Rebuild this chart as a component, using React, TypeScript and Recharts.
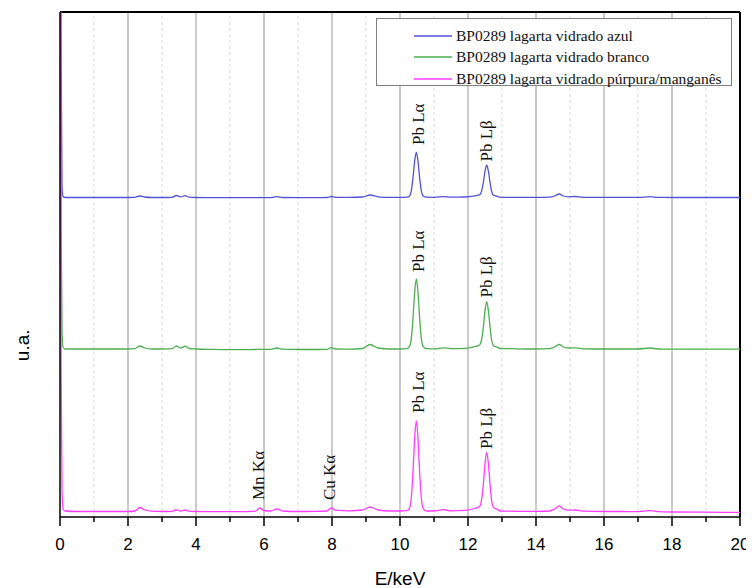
import React from "react";
import { ComposedChart, Line, Scatter, XAxis, YAxis, ReferenceLine } from "recharts";

// Energy grid (keV)
const energies = [
  0, 0.03, 0.06, 0.09, 0.15, 0.5, 1.0, 1.5, 2.0, 2.2, 2.35, 2.5, 2.7, 3.0, 3.3, 3.42, 3.55, 3.68, 3.8, 4.0,
  4.5, 5.0, 5.5, 5.75, 5.87, 6.0, 6.2, 6.38, 6.55, 7.0, 7.5, 7.85, 7.98, 8.1, 8.5, 8.9, 9.12, 9.35, 9.7, 10.0,
  10.2, 10.28, 10.33, 10.38, 10.43, 10.48, 10.53, 10.58, 10.63, 10.68, 10.78, 11.0, 11.28, 11.5, 11.9,
  12.2, 12.3, 12.35, 12.4, 12.45, 12.5, 12.55, 12.6, 12.65, 12.7, 12.75, 12.85, 12.95, 13.1, 13.5, 14.0,
  14.4, 14.55, 14.68, 14.8, 14.95, 15.15, 15.4, 16.0, 16.5, 17.0, 17.35, 17.6, 18.0, 19.0, 20.0,
];

// Stacked (offset) intensities, arbitrary units
const azul = [
  900, 470, 330, 320.5, 319.5, 319.5, 319.5, 319.5, 319.5, 319.6, 321, 320, 319.5, 319.5, 319.7, 321.5, 320.2, 321.3, 319.8, 319.5,
  319.4, 319.3, 319.3, 319.3, 319.5, 319.4, 319.4, 320.3, 319.5, 319.4, 319.4, 319.5, 320.5, 319.7, 319.6, 320, 322, 320.2, 319.6, 319.6,
  319.8, 321, 325.8, 338.4, 355.5, 364.5, 355.5, 338.4, 325.8, 321, 319.8, 319.7, 320.4, 319.8, 320,
  321.1, 321.8, 322.4, 326, 334.1, 345.8, 352, 345.8, 334.1, 325, 321.8, 320.8, 319.8, 319.7, 319.6, 319.6,
  319.8, 321, 323, 321, 320.2, 320.5, 319.7, 319.6, 319.6, 319.6, 320.3, 319.6, 319.5, 319.5, 319.5,
];
const branco = [
  900, 300, 185, 169.5, 168, 168, 168, 168, 168, 168.3, 171, 169, 168, 168, 168.3, 171, 169, 170.8, 168.5, 168,
  167.6, 167.4, 167.4, 167.5, 167.8, 167.6, 167.6, 169, 167.8, 167.5, 167.5, 167.6, 169.3, 168, 167.8, 168.5, 172.5, 169, 168, 168,
  168.3, 170.5, 177.8, 197.4, 224, 238, 224, 197.4, 177.8, 170.5, 168.3, 168.2, 169.2, 168.4, 168.7,
  170.4, 171.3, 172.3, 177.5, 189.3, 206.3, 215.3, 206.3, 189.3, 176, 171.3, 169.9, 168.5, 168.4, 168.1, 168,
  168.4, 170, 172.5, 170, 169, 169.2, 168.2, 168, 168, 168, 169, 168, 167.9, 167.9, 167.9,
];
const purpura = [
  900, 160, 25, 8, 6, 5.5, 5.5, 5.5, 5.5, 6, 9.5, 7, 5.8, 5.5, 5.7, 7, 6, 7, 5.8, 5.5,
  5.3, 5.3, 5.4, 5.8, 9, 6.5, 6, 8, 6, 5.5, 5.6, 6, 9, 6.8, 6.2, 7, 10, 7, 6, 6,
  6.3, 8.7, 18.2, 43.5, 77.9, 96, 77.9, 43.5, 18.2, 8.7, 6, 6, 7.3, 6.2, 6.6,
  8.5, 9.6, 10.8, 17.3, 32, 53.3, 64.5, 53.3, 32, 15.5, 9.6, 7.9, 6, 5.9, 5.7, 5.7,
  6, 8, 11, 8, 6.8, 7, 5.8, 5.5, 5.5, 5.4, 6.3, 5.4, 5, 4.8, 4.6,
];

const seriesNames = [
  "BP0289 lagarta vidrado azul",
  "BP0289 lagarta vidrado branco",
  "BP0289 lagarta vidrado púrpura/manganês",
];
const seriesKeys = ["azul", "branco", "purpura"];
const seriesColors = ["#5252d8", "#4caf50", "#ff3cff"];

// Peak annotations (energy, label bottom value)
const labelTexts = ["Pb Lα", "Pb Lβ", "Pb Lα", "Pb Lβ", "Pb Lα", "Pb Lβ", "Mn Kα", "Cu Kα"];
const labelEnergies = [10.53, 12.55, 10.53, 12.53, 10.53, 12.55, 5.83, 7.94];
const labelValues = [372, 355.5, 245, 219.5, 104, 68, 17, 17];

const majorTicks = [0, 2, 4, 6, 8, 10, 12, 14, 16, 18, 20];
const minorTicks = [1, 3, 5, 7, 9, 11, 13, 15, 17, 19];
const allTicks = [0, 1, 2, 3, 4, 5, 6, 7, 8, 9, 10, 11, 12, 13, 14, 15, 16, 17, 18, 19, 20];

const series: Record<string, number[]> = { azul, branco, purpura };
const data = energies.map((e, i) => {
  const row: Record<string, number> = { e };
  seriesKeys.forEach((k) => (row[k] = series[k][i]));
  return row;
});
const labelData = labelTexts.map((t, i) => ({ text: t, e: labelEnergies[i], v: labelValues[i] }));

const W = 746;
const H = 580;

const AxisTick = (props: any) => {
  const { x, y, payload } = props;
  const major = payload.value % 2 === 0;
  return (
    <g>
      <line x1={x} x2={x} y1={y} y2={y + (major ? 9 : 5)} stroke="#000" strokeWidth={1.5} />
      {major && (
        <text
          x={x}
          y={y + 27}
          textAnchor="middle"
          dominantBaseline="central"
          fontFamily="'Liberation Sans Narrow', 'Liberation Sans', Arial, sans-serif"
          fontSize={17}
          fill="#000"
        >
          {payload.value}
        </text>
      )}
    </g>
  );
};

const PeakLabel = (props: any) => {
  const { cx, cy, payload } = props;
  if (cx == null || cy == null) return <g />;
  return (
    <text
      transform={`translate(${cx}, ${cy}) rotate(-90)`}
      x={0}
      y={0}
      textAnchor="start"
      dominantBaseline="central"
      fontFamily="'Liberation Serif', 'Times New Roman', serif"
      fontSize={17}
      fill="#111"
    >
      {payload.text}
    </text>
  );
};

export default function App() {
  return (
    <div style={{ position: "relative", width: W, height: H, background: "#fff" }}>
      <ComposedChart width={W} height={H} data={data} margin={{ top: 4, right: 14, left: 0, bottom: 0 }}>
        {minorTicks.map((t) => (
          <ReferenceLine key={"mi" + t} x={t} stroke="#d6d6d6" strokeDasharray="3 3" strokeWidth={1} />
        ))}
        {majorTicks.slice(1, -1).map((t) => (
          <ReferenceLine key={"ma" + t} x={t} stroke="#a8a8a8" strokeWidth={1.2} />
        ))}
        <XAxis
          type="number"
          dataKey="e"
          domain={[0, 20]}
          ticks={allTicks}
          interval={0}
          allowDataOverflow
          tickLine={false}
          tickSize={0}
          tickMargin={0}
          tick={<AxisTick />}
          axisLine={{ stroke: "#000", strokeWidth: 1.5 }}
          height={71}
          label={(p: any) => {
            const vb = p.viewBox || {};
            return (
              <text
                x={vb.x + vb.width / 2}
                y={vb.y + 61}
                textAnchor="middle"
                dominantBaseline="central"
                fontFamily="'Liberation Sans', Arial, sans-serif"
                fontSize={19}
                fill="#000"
              >
                E/keV
              </text>
            );
          }}
        />
        <YAxis
          type="number"
          domain={[0, 505]}
          allowDataOverflow
          tick={false}
          tickLine={false}
          axisLine={{ stroke: "#000", strokeWidth: 1.5 }}
          width={52}
          label={(p: any) => {
            const vb = p.viewBox || {};
            const cx = vb.x + 14;
            const cy = vb.y + vb.height * 0.66;
            return (
              <text
                transform={`translate(${cx}, ${cy}) rotate(-90)`}
                textAnchor="middle"
                dominantBaseline="central"
                fontFamily="'Liberation Sans', Arial, sans-serif"
                fontSize={19}
                fill="#000"
              >
                u.a.
              </text>
            );
          }}
        />
        <ReferenceLine y={505} stroke="#000" strokeWidth={2} />
        <ReferenceLine x={20} stroke="#000" strokeWidth={2} />
        {seriesKeys.map((k, i) => (
          <Line
            key={k}
            type="monotone"
            dataKey={k}
            name={seriesNames[i]}
            stroke={seriesColors[i]}
            strokeWidth={1.3}
            dot={false}
            activeDot={false}
            isAnimationActive={false}
          />
        ))}
        <Scatter data={labelData} dataKey="v" shape={<PeakLabel />} isAnimationActive={false} />
      </ComposedChart>
      <div
        style={{
          position: "absolute",
          left: 368,
          top: 10,
          width: 356,
          height: 68,
          border: "1px solid #808080",
          background: "#fff",
          boxSizing: "border-box",
          paddingTop: 6,
        }}
      >
        {seriesNames.map((n, i) => (
          <div key={n} style={{ display: "flex", alignItems: "center", height: 21.5, marginLeft: 37 }}>
            <svg width={38} height={4} style={{ marginRight: 4 }}>
              <line x1={0} x2={38} y1={2} y2={2} stroke={seriesColors[i]} strokeWidth={1.3} />
            </svg>
            <span
              style={{
                fontFamily: "'Liberation Serif', 'Times New Roman', serif",
                fontSize: 15.5,
                color: "#111",
                whiteSpace: "nowrap",
              }}
            >
              {n}
            </span>
          </div>
        ))}
      </div>
    </div>
  );
}
